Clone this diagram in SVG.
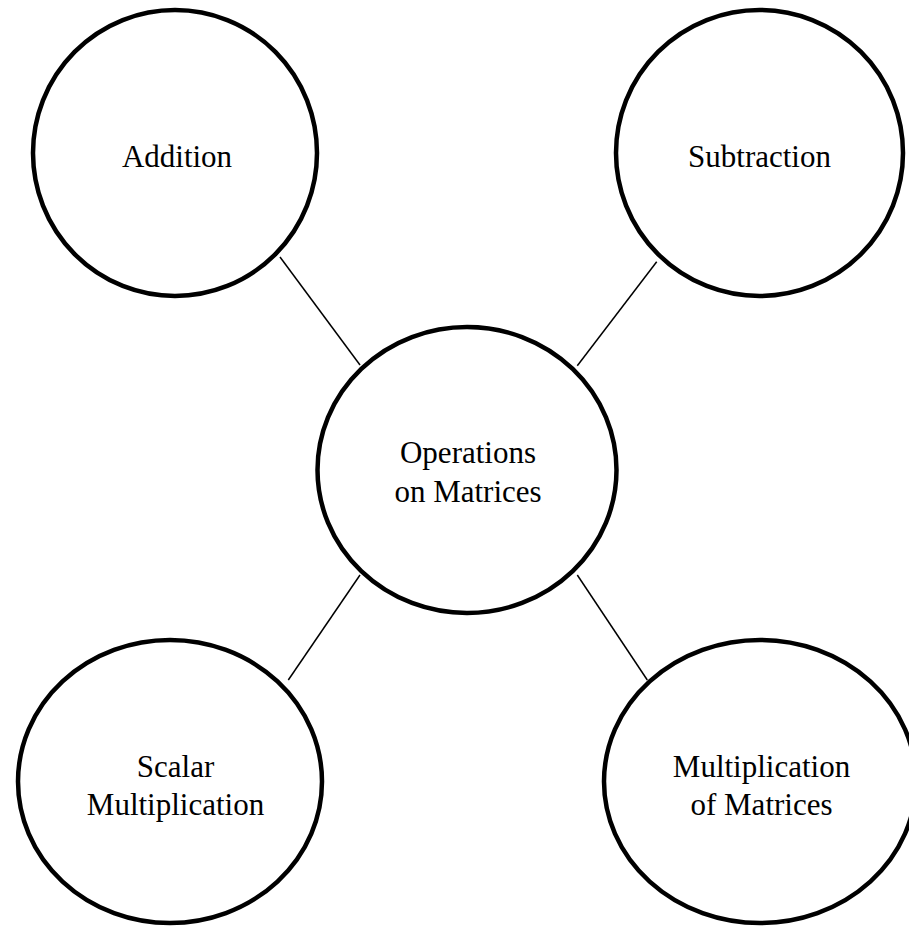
<svg xmlns="http://www.w3.org/2000/svg" width="909" height="929" viewBox="0 0 909 929">
<style>
.node{fill:#fff;stroke:#000;stroke-width:4.5}
.lbl{font-family:"Liberation Serif","Times New Roman",serif;font-size:31px;fill:#000;text-anchor:middle}
.conn{stroke:#000;stroke-width:1.5;fill:none}
</style>
<rect width="909" height="929" fill="#fff"/>
<g id="connectors">
<line class="conn" x1="280" y1="257" x2="360" y2="365"/>
<line class="conn" x1="656.7" y1="261.7" x2="577.3" y2="365.7"/>
<line class="conn" x1="360" y1="575" x2="288.3" y2="680"/>
<line class="conn" x1="577.3" y1="575" x2="647.3" y2="680"/>
</g>
<g id="addition">
<ellipse class="node" cx="175" cy="153" rx="142" ry="143"/>
<text class="lbl" x="177" y="167">Addition</text>
</g>
<g id="subtraction">
<ellipse class="node" cx="759.5" cy="153" rx="143.5" ry="143"/>
<text class="lbl" x="759.5" y="167">Subtraction</text>
</g>
<g id="operations">
<ellipse class="node" cx="467" cy="470" rx="149.5" ry="143"/>
<text class="lbl" x="468" y="463">Operations</text>
<text class="lbl" x="468" y="502">on Matrices</text>
</g>
<g id="scalar">
<ellipse class="node" cx="170" cy="781.5" rx="152" ry="141.5"/>
<text class="lbl" x="175.5" y="777">Scalar</text>
<text class="lbl" x="175.5" y="815">Multiplication</text>
</g>
<g id="multiplication">
<ellipse class="node" cx="760" cy="781.5" rx="156" ry="141.5"/>
<text class="lbl" x="761.5" y="777">Multiplication</text>
<text class="lbl" x="761.5" y="815">of Matrices</text>
</g>
</svg>
